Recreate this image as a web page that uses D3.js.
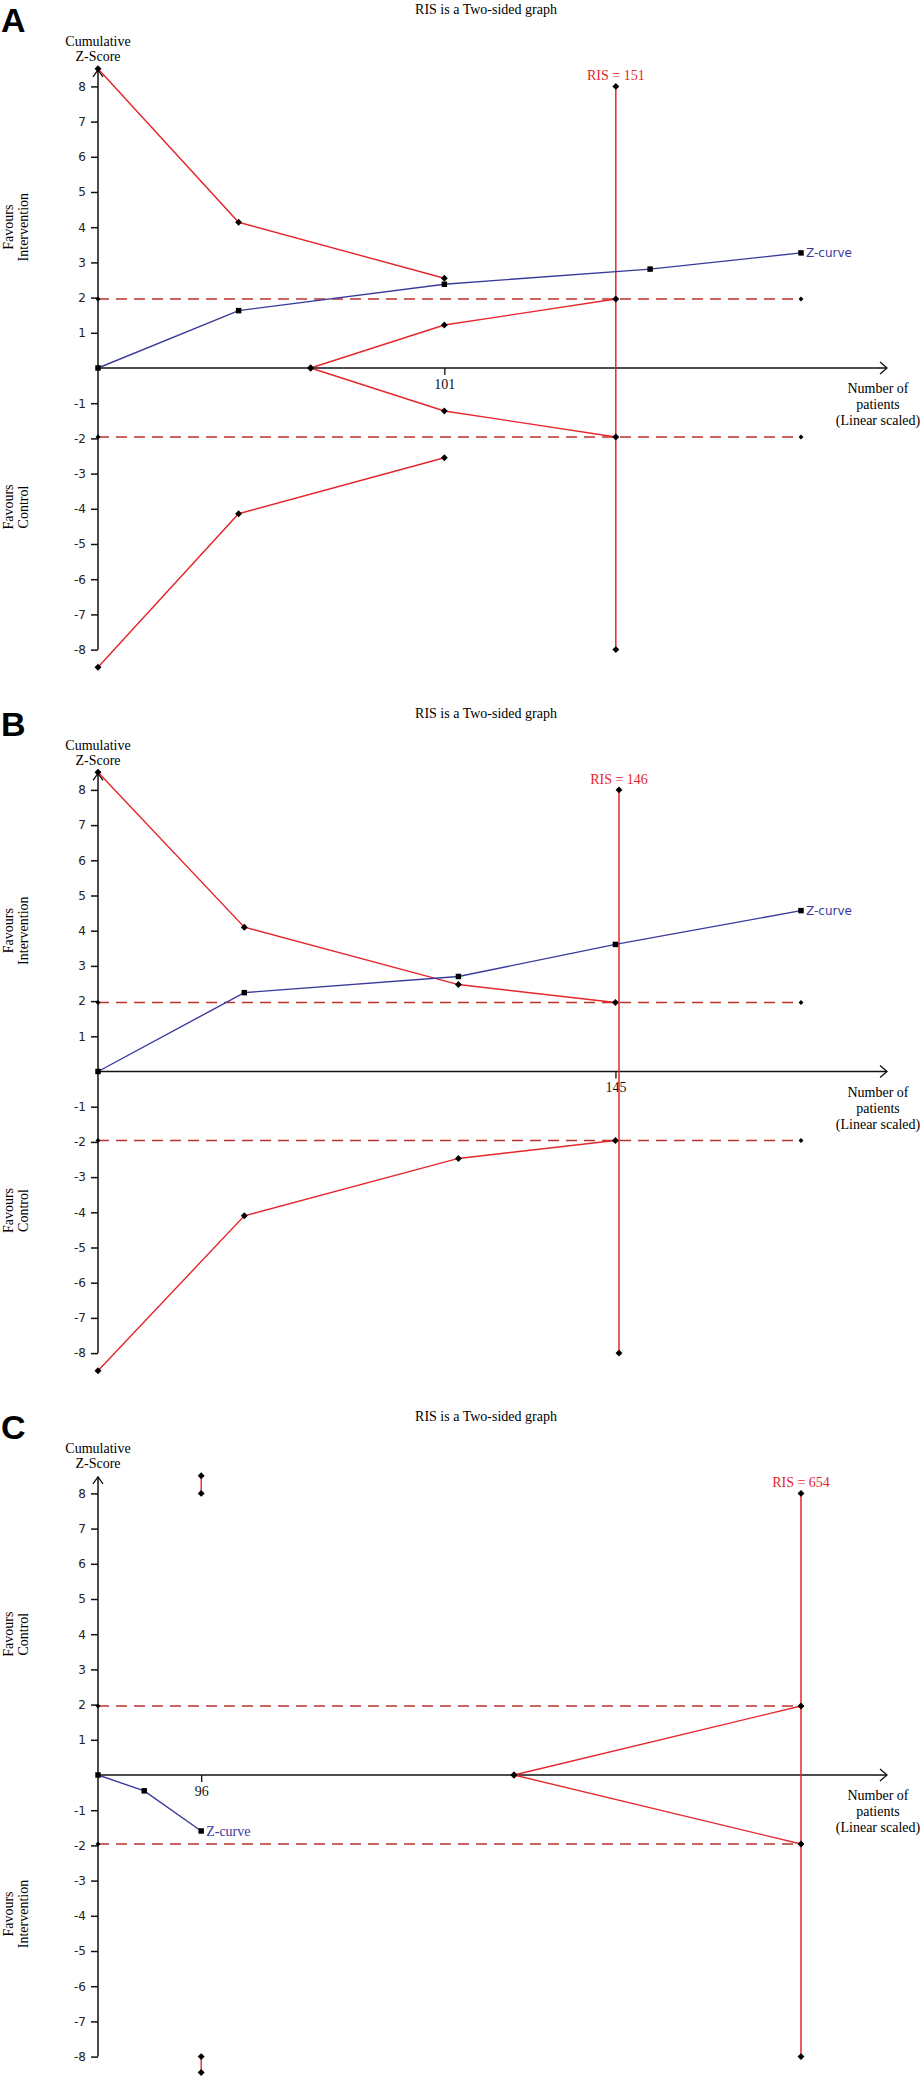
<!DOCTYPE html>
<html>
<head>
<meta charset="utf-8">
<script src="https://cdn.jsdelivr.net/npm/d3@7"></script>
<style>
  body { margin: 0; background: #fff; }
  svg { display: block; }
</style>
</head>
<body>
<div id="chart"></div>
<script>
// ---- data (x = number of patients, y = cumulative Z) ----
const zTicks = [-8, -7, -6, -5, -4, -3, -2, -1, 1, 2, 3, 4, 5, 6, 7, 8];
const conventional = [1.96, -1.96];

// panel A
const aZCurve = [[0, 0], [41, 1.63], [101, 2.38], [161, 2.81], [205, 3.27]];
const aBenefitUpper = [[0, 8.5], [41, 4.14], [101, 2.55]];
const aBenefitLower = [[0, -8.5], [41, -4.14], [101, -2.55]];
const aFutilityUpper = [[62, 0], [101, 1.22], [151, 1.96]];
const aFutilityLower = [[62, 0], [101, -1.22], [151, -1.96]];

// panel B
const bZCurve = [[0, 0], [41, 2.24], [101, 2.70], [145, 3.61], [197, 4.57]];
const bBenefitUpper = [[0, 8.5], [41, 4.10], [101, 2.47], [145, 1.96]];
const bBenefitLower = [[0, -8.5], [41, -4.10], [101, -2.47], [145, -1.96]];

// panel C
const cZCurve = [[0, 0], [43, -0.45], [96, -1.59]];
const cBenefitUpper = [[96, 8.5], [96, 8.0]];
const cBenefitLower = [[96, -8.0], [96, -8.45]];
const cFutilityUpper = [[387, 0], [654, 1.96]];
const cFutilityLower = [[387, 0], [654, -1.96]];

const panels = [
  { label: "A", maxN: 205, ris: 151, tick: 101, zCurve: aZCurve,
    boundaries: [aBenefitUpper, aBenefitLower, aFutilityUpper, aFutilityLower],
    topText: ["Favours", "Intervention"], bottomText: ["Favours", "Control"], serifZ: false },
  { label: "B", maxN: 197, ris: 146, tick: 145, zCurve: bZCurve,
    boundaries: [bBenefitUpper, bBenefitLower],
    topText: ["Favours", "Intervention"], bottomText: ["Favours", "Control"], serifZ: false },
  { label: "C", maxN: 654, ris: 654, tick: 96, zCurve: cZCurve,
    boundaries: [cBenefitUpper, cBenefitLower, cFutilityUpper, cFutilityLower],
    topText: ["Favours", "Control"], bottomText: ["Favours", "Intervention"], serifZ: true }
];

// ---- layout ----
const width = 920, height = 2077;
const panelStep = 703.5;
const axisX = 98, lastX = 801, arrowX = 887;
const serif = "'Liberation Serif', 'Times New Roman', serif";
const sans = "'DejaVu Sans', Verdana, sans-serif";
const red = "#e5262c", dashRed = "#b8342f", blue = "#3a3a9c";

const svg = d3.select("#chart").append("svg")
  .attr("width", width)
  .attr("height", height)
  .attr("viewBox", `0 0 ${width} ${height}`);

const drawPanel = (p, i) => {
  const top = i * panelStep;
  const g = svg.append("g");

  const x = d3.scaleLinear().domain([0, p.maxN]).range([axisX, lastX]);
  const y = d3.scaleLinear().domain([-8, 8]).range([top + 649.6, top + 86.4]);
  const line = d3.line().x(d => x(d[0])).y(d => y(d[1]));

  // panel letter and title
  g.append("text")
    .attr("x", 1).attr("y", top + 32)
    .style("font-family", "'Liberation Sans', Arial, sans-serif")
    .style("font-size", "34px").style("font-weight", "bold")
    .text(p.label);

  g.append("text")
    .attr("x", 486).attr("y", top + 14)
    .attr("text-anchor", "middle")
    .style("font-family", serif).style("font-size", "14px")
    .text("RIS is a Two-sided graph");

  // y axis
  const yAxis = g.append("g")
    .attr("transform", `translate(${axisX},0)`)
    .call(d3.axisLeft(y).tickValues(zTicks).tickSize(7).tickPadding(5).tickFormat(d => String(d)));
  yAxis.select(".domain").remove();
  yAxis.selectAll(".tick line").attr("stroke", "#111").attr("stroke-width", 1.5);
  yAxis.selectAll(".tick text")
    .style("font-family", sans).style("font-size", "12px").attr("fill", "#222");

  const yTop = y(8.47);
  g.append("line")
    .attr("x1", axisX).attr("x2", axisX)
    .attr("y1", y(-8)).attr("y2", yTop)
    .attr("stroke", "#111").attr("stroke-width", 1.5);
  g.append("path")
    .attr("d", `M${axisX - 5},${yTop + 7}L${axisX},${yTop}L${axisX + 5},${yTop + 7}`)
    .attr("fill", "none").attr("stroke", "#111").attr("stroke-width", 1.3);

  // x axis
  const y0 = y(0);
  const xAxis = g.append("g")
    .attr("transform", `translate(0,${y0})`)
    .call(d3.axisBottom(x).tickValues([p.tick]).tickSize(7).tickPadding(4));
  xAxis.select(".domain").remove();
  xAxis.selectAll(".tick line").attr("stroke", "#111").attr("stroke-width", 1.3);
  xAxis.selectAll(".tick text")
    .style("font-family", serif).style("font-size", "14px").attr("fill", "#111");

  g.append("line")
    .attr("x1", axisX).attr("x2", arrowX)
    .attr("y1", y0).attr("y2", y0)
    .attr("stroke", "#111").attr("stroke-width", 1.5);
  g.append("path")
    .attr("d", `M${arrowX - 7},${y0 - 6}L${arrowX},${y0}L${arrowX - 7},${y0 + 6}`)
    .attr("fill", "none").attr("stroke", "#111").attr("stroke-width", 1.3);

  g.selectAll(".xlab")
    .data(["Number of", "patients", "(Linear scaled)"])
    .join("text")
    .attr("x", 878).attr("y", (_, k) => y0 + 25 + k * 16)
    .attr("text-anchor", "middle")
    .style("font-family", serif).style("font-size", "14px")
    .text(d => d);

  // axis titles
  g.selectAll(".ylab")
    .data(["Cumulative", "Z-Score"])
    .join("text")
    .attr("x", axisX).attr("y", (_, k) => top + 46 + k * 15)
    .attr("text-anchor", "middle")
    .style("font-family", serif).style("font-size", "14px")
    .text(d => d);

  const sideLabel = (lines, z) => {
    lines.forEach((t, k) => {
      g.append("text")
        .attr("transform", `translate(${13 + k * 15},${y(z)}) rotate(-90)`)
        .attr("text-anchor", "middle")
        .style("font-family", serif).style("font-size", "14px")
        .text(t);
    });
  };
  sideLabel(p.topText, 4);
  sideLabel(p.bottomText, -3.95);

  // conventional +/-1.96 boundaries
  conventional.forEach(z => {
    g.append("path")
      .attr("d", line([[0, z], [p.maxN, z]]))
      .attr("stroke", dashRed).attr("stroke-width", 1.7)
      .attr("stroke-dasharray", "11,7").attr("fill", "none");
  });

  // required information size line
  g.append("path")
    .attr("d", line([[p.ris, -8], [p.ris, 8]]))
    .attr("stroke", red).attr("stroke-width", 1.5).attr("fill", "none");
  g.append("text")
    .attr("x", x(p.ris)).attr("y", y(8) - 6)
    .attr("text-anchor", "middle")
    .style("font-family", serif).style("font-size", "14px")
    .attr("fill", red)
    .text(`RIS = ${p.ris}`);

  // monitoring boundaries
  p.boundaries.forEach(b => {
    g.append("path")
      .attr("d", line(b))
      .attr("stroke", red).attr("stroke-width", 1.4).attr("fill", "none");
  });

  // Z-curve
  g.append("path")
    .attr("d", line(p.zCurve))
    .attr("stroke", blue).attr("stroke-width", 1.4).attr("fill", "none");

  // markers: rotated squares for boundary points, squares for the Z-curve
  const diamond = d3.symbol().type(d3.symbolSquare).size(24);
  const smallDiamond = d3.symbol().type(d3.symbolSquare).size(12);
  const square = d3.symbol().type(d3.symbolSquare).size(30);

  const diamondPts = p.boundaries.flat().concat([[p.ris, 8], [p.ris, -8]]);
  g.selectAll(".bmark")
    .data(diamondPts)
    .join("path")
    .attr("transform", d => `translate(${x(d[0])},${y(d[1])}) rotate(45)`)
    .attr("d", diamond).attr("fill", "#000");

  const dashPts = conventional.flatMap(z => [[0, z], [p.maxN, z]]);
  g.selectAll(".dmark")
    .data(dashPts)
    .join("path")
    .attr("transform", d => `translate(${x(d[0])},${y(d[1])}) rotate(45)`)
    .attr("d", smallDiamond).attr("fill", "#000");

  g.selectAll(".zmark")
    .data(p.zCurve)
    .join("path")
    .attr("transform", d => `translate(${x(d[0])},${y(d[1])})`)
    .attr("d", square).attr("fill", "#000");

  const last = p.zCurve[p.zCurve.length - 1];
  g.append("text")
    .attr("x", x(last[0]) + 5).attr("y", y(last[1]))
    .attr("dy", "0.35em")
    .style("font-family", p.serifZ ? serif : sans)
    .style("font-size", p.serifZ ? "14px" : "12px")
    .attr("fill", blue)
    .text("Z-curve");
};

panels.forEach(drawPanel);
</script>
</body>
</html>
